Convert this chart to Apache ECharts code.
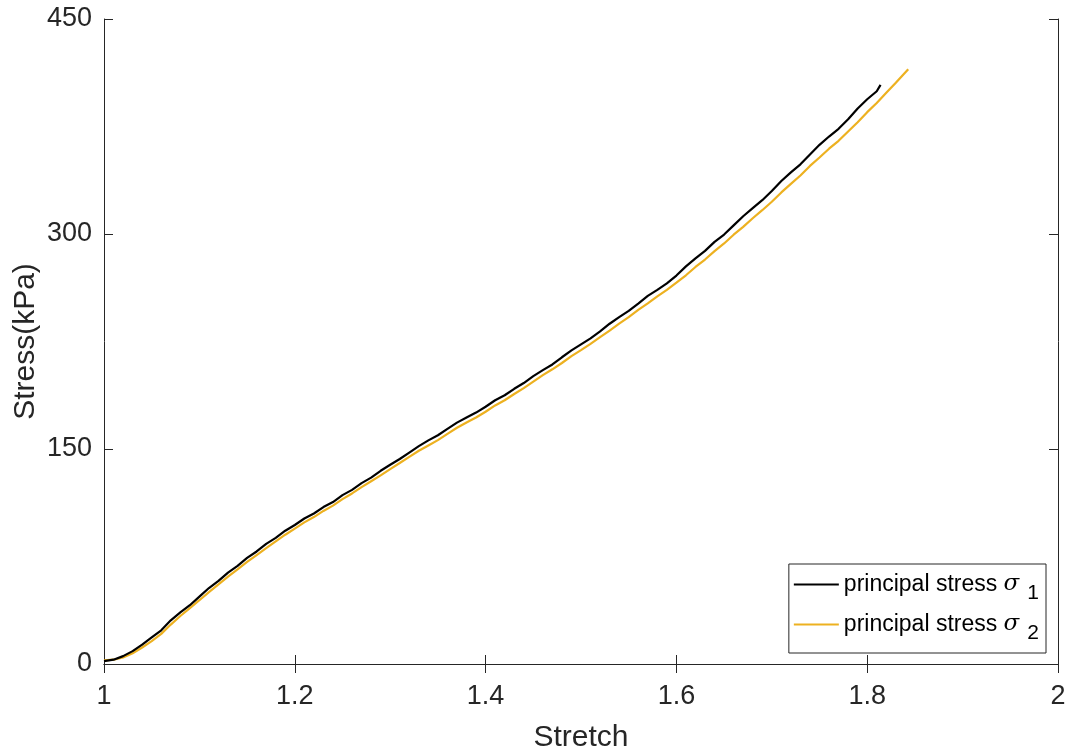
<!DOCTYPE html>
<html>
<head>
<meta charset="utf-8">
<script src="https://cdn.jsdelivr.net/npm/echarts@6/dist/echarts.min.js"></script>
<style>
html,body{margin:0;padding:0;background:#fff;}
#chart{width:1071px;height:751px;}
</style>
</head>
<body>
<div id="chart"></div>
<script>
// Stretch values (x) and stress values (kPa)
const stretch1 = [1.00,1.01,1.02,1.03,1.04,1.05,1.06,1.07,1.08,1.09,1.10,1.11,1.12,1.13,1.14,1.15,1.16,1.17,1.18,1.19,1.20,1.21,1.22,1.23,1.24,1.25,1.26,1.27,1.28,1.29,1.30,1.31,1.32,1.33,1.34,1.35,1.36,1.37,1.38,1.39,1.40,1.41,1.42,1.43,1.44,1.45,1.46,1.47,1.48,1.49,1.50,1.51,1.52,1.53,1.54,1.55,1.56,1.57,1.58,1.59,1.60,1.61,1.62,1.63,1.64,1.65,1.66,1.67,1.68,1.69,1.70,1.71,1.72,1.73,1.74,1.75,1.76,1.77,1.78,1.79,1.80,1.81,1.814];
const stress1 = [2,3,5.5,9,13.5,18.5,23.5,30.5,36,41,47,53,58,63.8,68.5,74,78.5,83.8,88,93,97,101.5,105,109.5,113,117.8,121.5,126.2,130,134.8,139,143,147.5,152,156,159.6,164,168.4,172,175.4,179.5,184,187.5,192,196,200.8,205,209,214,218.8,223,227.2,232,237.4,242,246.4,251.5,256.8,261,265.6,271,277.4,283,288.2,294.5,299.6,306,312.4,318,323.6,330,337,343,348.6,355.5,362.2,368,373.4,380,387.6,394,399.6,404];
const stretch2 = [1.00,1.01,1.02,1.03,1.04,1.05,1.06,1.07,1.08,1.09,1.10,1.11,1.12,1.13,1.14,1.15,1.16,1.17,1.18,1.19,1.20,1.21,1.22,1.23,1.24,1.25,1.26,1.27,1.28,1.29,1.30,1.31,1.32,1.33,1.34,1.35,1.36,1.37,1.38,1.39,1.40,1.41,1.42,1.43,1.44,1.45,1.46,1.47,1.48,1.49,1.50,1.51,1.52,1.53,1.54,1.55,1.56,1.57,1.58,1.59,1.60,1.61,1.62,1.63,1.64,1.65,1.66,1.67,1.68,1.69,1.70,1.71,1.72,1.73,1.74,1.75,1.76,1.77,1.78,1.79,1.80,1.81,1.82,1.83,1.843];
const stress2 = [2.5,3,4.5,7.5,11.5,16,21,27.5,33.5,39,44.5,50.2,55.5,61,66,71.2,76,80.8,85.5,90.2,94.5,98.8,102.5,106.8,110.5,115,119,123.4,127.5,131.6,136,140.2,144.5,148.8,152.5,156.2,160.5,164.8,168.5,172,176,180.4,184,188.4,192.5,197,201.5,205.6,210,214.8,219,223.4,228,232.6,237.5,242,247,251.6,256.5,261,266,271.2,277,282.2,288,293.4,299.5,305,311,316.6,322.5,329,335,340.8,347.5,353.4,359.5,365,371.5,378,385,391.4,398.5,405.6,415];
const xTicks = [1, 1.2, 1.4, 1.6, 1.8, 2];
const yTicks = [0, 150, 300, 450];
const seriesNames = ['σ1', 'σ2'];

const pairs = (xs, ys) => xs.map((x, i) => [x, ys[i]]);
const axisColor = '#262626';
const font = '"Liberation Sans", Arial, Helvetica, sans-serif';

const chart = echarts.init(document.getElementById('chart'), null, {renderer: 'canvas'});
const baseX = {
  type: 'value', min: xTicks[0], max: xTicks[xTicks.length-1], interval: 0.2,
  axisLine: {show: true, lineStyle: {color: axisColor, width: 1}},
  axisTick: {show: true, inside: true, length: 9, lineStyle: {color: axisColor}},
  splitLine: {show: false}
};
const baseY = {
  type: 'value', min: yTicks[0], max: yTicks[yTicks.length-1], interval: 150,
  axisLine: {show: true, lineStyle: {color: axisColor, width: 1}},
  axisTick: {show: true, inside: true, length: 9, lineStyle: {color: axisColor}},
  splitLine: {show: false}
};
const legendRich = {
  n: {fontFamily: font, fontSize: 23, color: '#000'},
  s: {fontFamily: '"DejaVu Serif", "Liberation Serif", serif', fontStyle: 'italic', fontSize: 23, color: '#000'},
  b: {fontFamily: font, fontSize: 21, color: '#000', padding: [18, 0, 0, 8]}
};
chart.setOption({
  backgroundColor: '#ffffff',
  animation: false,
  grid: {left: 104, right: 13, top: 19, bottom: 87, containLabel: false, outerBoundsMode: 'none'},
  xAxis: [
    Object.assign({}, baseX, {
      position: 'bottom', name: 'Stretch', nameLocation: 'middle', nameGap: 59, nameMoveOverlap: false,
      nameTextStyle: {fontFamily: font, fontSize: 30, color: axisColor},
      axisLabel: {show: true, margin: 19, fontFamily: font, fontSize: 27, color: axisColor,
        formatter: v => String(Math.round(v*10)/10)}
    }),
    Object.assign({}, baseX, {position: 'top', axisLabel: {show: false}})
  ],
  yAxis: [
    Object.assign({}, baseY, {
      position: 'left', name: 'Stress(kPa)', nameLocation: 'middle', nameGap: 63, nameRotate: 90, nameMoveOverlap: false,
      nameTextStyle: {fontFamily: font, fontSize: 30, color: axisColor},
      axisLabel: {show: true, margin: 12, fontFamily: font, fontSize: 27, color: axisColor}
    }),
    Object.assign({}, baseY, {position: 'right', axisLabel: {show: false}})
  ],
  legend: {
    show: true,
    right: 25, bottom: 98, orient: 'vertical',
    backgroundColor: '#fff', borderColor: axisColor, borderWidth: 1,
    padding: [9, 7, 9, 5], itemGap: 9, itemWidth: 45, itemHeight: 2,
    icon: 'rect',
    textStyle: {fontFamily: font, fontSize: 23, color: '#000', rich: legendRich},
    formatter: function (name) {
      return name === 'σ1' ? '{n|principal stress }{s|σ}{b|1}' : '{n|principal stress }{s|σ}{b|2}';
    },
    data: seriesNames
  },
  series: [
    {name: seriesNames[0], type: 'line', data: pairs(stretch1, stress1), showSymbol: false, symbol: 'none',
     lineStyle: {color: '#000000', width: 2.2}, itemStyle: {color: '#000000'}, z: 3},
    {name: seriesNames[1], type: 'line', data: pairs(stretch2, stress2), showSymbol: false, symbol: 'none',
     lineStyle: {color: '#EDB120', width: 2.2}, itemStyle: {color: '#EDB120'}, z: 2}
  ]
});
</script>
</body>
</html>
